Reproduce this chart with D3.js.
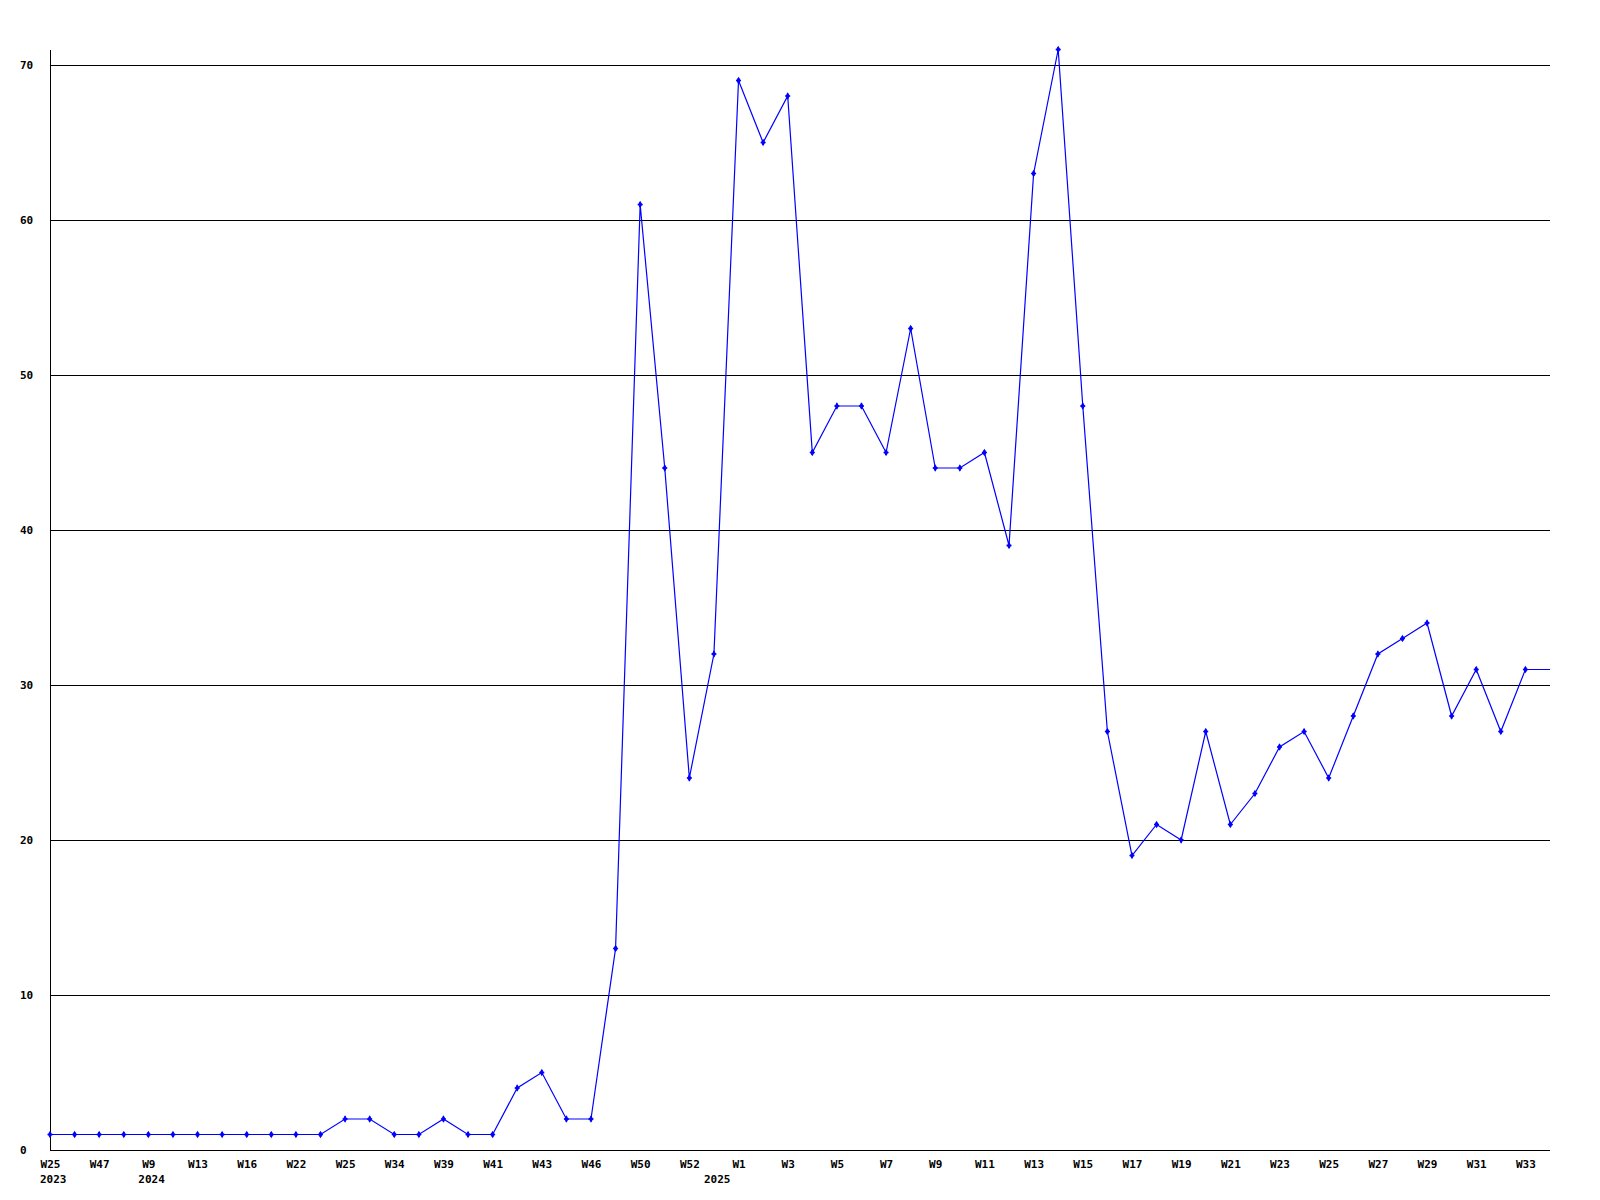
<!DOCTYPE html>
<html>
<head>
<meta charset="utf-8">
<script src="https://cdn.jsdelivr.net/npm/d3@7"></script>
<style>
html,body{margin:0;padding:0;background:#fff;}
svg{display:block;}
text{font-family:"DejaVu Sans Mono","Liberation Mono",monospace;font-weight:bold;font-size:11px;fill:#000;}
</style>
</head>
<body>
<svg id="chart" width="1600" height="1200"></svg>
<script>
// Week labels (every other one is shown on the axis)
const weeks = ["W25","W26","W47","W48","W9","W10","W13","W14","W16","W17",
  "W22","W23","W25","W26","W34","W35","W39","W40","W41","W42",
  "W43","W44","W46","W47","W50","W51","W52","W53","W1","W2",
  "W3","W4","W5","W6","W7","W8","W9","W10","W11","W12",
  "W13","W14","W15","W16","W17","W18","W19","W20","W21","W22",
  "W23","W24","W25","W26","W27","W28","W29","W30","W31","W32","W33"];
// Year labels and the category index where each sits
const yearLabels = ["2023","2024","2025"];
const yearAt = [0, 4, 27];
const values = [1,1,1,1,1,1,1,1,1,1,
  1,1,2,2,1,1,2,1,1,4,
  5,2,2,13,61,44,24,32,69,65,
  68,45,48,48,45,53,44,44,45,39,
  63,71,48,27,19,21,20,27,21,23,
  26,27,24,28,32,33,34,28,31,27,31];
const yTicks = [0,10,20,30,40,50,60,70];

(function () {
const svg = d3.select("#chart");
const mLeft = 50, mRight = 1550, mTop = 49.5, mBottom = 1150;
const x = d3.scaleLinear().domain([0, values.length]).range([mLeft, mRight]);
const y = d3.scaleLinear().domain([0, 71]).range([mBottom, mTop]);
const fontStyle = sel => sel.style("font-family", "'DejaVu Sans Mono',monospace")
  .style("font-weight", "bold").style("font-size", "11px");

// grid lines
svg.append("g").selectAll("line").data(yTicks.filter(d => d > 0)).join("line")
  .attr("x1", mLeft).attr("x2", mRight)
  .attr("y1", d => Math.round(y(d)) + 0.5).attr("y2", d => Math.round(y(d)) + 0.5)
  .attr("stroke", "#000").attr("stroke-width", 1).attr("shape-rendering", "crispEdges");

// axes lines
svg.append("line").attr("x1", mLeft + 0.5).attr("x2", mLeft + 0.5).attr("y1", 50).attr("y2", mBottom + 0.5)
  .attr("stroke", "#000").attr("shape-rendering", "crispEdges");
svg.append("line").attr("x1", mLeft).attr("x2", mRight).attr("y1", mBottom + 0.5).attr("y2", mBottom + 0.5)
  .attr("stroke", "#000").attr("shape-rendering", "crispEdges");

// y axis labels
const yAxis = d3.axisLeft(y).tickValues(yTicks).tickSize(0).tickFormat(d3.format("d"));
const gy = svg.append("g").attr("transform", `translate(${mLeft},0)`).call(yAxis);
gy.select(".domain").remove();
gy.selectAll("text").attr("x", 20 - mLeft).attr("text-anchor", "start").attr("dy", "0.35em").call(fontStyle);

// x axis labels
const xTickIdx = d3.range(0, values.length, 2);
const xAxis = d3.axisBottom(x).tickValues(xTickIdx).tickSize(0).tickFormat(i => weeks[i]);
const gx = svg.append("g").attr("transform", `translate(0,${mBottom})`).call(xAxis);
gx.select(".domain").remove();
gx.selectAll("text").attr("y", 14).attr("dy", "0.35em").call(fontStyle);

// year labels
svg.append("g").selectAll("text").data(yearLabels).join("text")
  .attr("x", (d, i) => x(yearAt[i]) - 10).attr("y", mBottom + 29).attr("dy", "0.35em")
  .attr("text-anchor", "start").attr("fill", "#000").call(fontStyle)
  .text(d => d);

// line (extends to right edge at last value)
const pts = values.map((v, i) => [i, v]).concat([[values.length, values[values.length - 1]]]);
const line = d3.line().x(d => x(d[0])).y(d => y(d[1]));
svg.append("path").datum(pts).attr("d", line)
  .attr("fill", "none").attr("stroke", "#0000ff").attr("stroke-width", 1.2);

// markers
svg.append("g").selectAll("path").data(values).join("path")
  .attr("transform", (d, i) => `translate(${x(i)},${y(d)})`)
  .attr("d", d3.symbol().type(d3.symbolDiamond).size(16)).attr("fill", "#0000ff");
svg.append("g").selectAll("path").data(values).join("path")
  .attr("transform", (d, i) => `translate(${x(i)},${y(d)})`)
  .attr("d", d3.symbol().type(d3.symbolCross).size(14)).attr("fill", "#0000ff");
})();
</script>
</body>
</html>
